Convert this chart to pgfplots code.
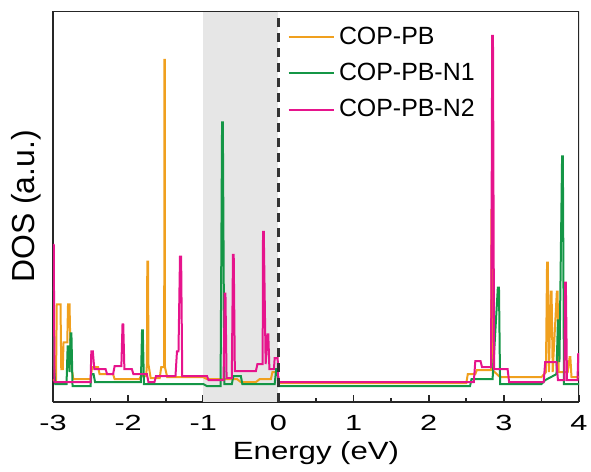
\documentclass[border=0pt]{standalone}
\usepackage{pgfplots}
\pgfplotsset{compat=1.18}
\usepackage{fontspec}
\setmainfont{Liberation Sans}
\newfontfamily\tickfont[FakeStretch=1.4]{Liberation Sans}
\newfontfamily\xlabfont[FakeStretch=1.25]{Liberation Sans}
\definecolor{cpb}{RGB}{240,160,30}
\definecolor{cn1}{RGB}{20,150,70}
\definecolor{cn2}{RGB}{230,20,140}
\definecolor{shade}{RGB}{230,230,230}
\begin{document}
\begin{tikzpicture}
\useasboundingbox (-26.5bp,-35bp) rectangle (269bp,201bp);
\begin{axis}[
    scale only axis, width=263bp, height=195.5bp,
    xmin=-3, xmax=4, ymin=0, ymax=393,
    xtick={-3,...,4}, minor x tick num=1,
    ytick=\empty,
    axis x line*=bottom, axis y line*=left,
    every outer x axis line/.append style={-},
    every outer y axis line/.append style={-},
    axis line style={line width=1bp, black!85},
    tick style={line width=0.8bp, black!85},
    tick align=inside,
    major tick length=3.5bp, minor tick length=2bp,
    xticklabel style={font=\tickfont\fontsize{11}{13}\selectfont, yshift=-3bp},
    xlabel={Energy (eV)}, ylabel={DOS (a.u.)},
    xlabel style={font=\xlabfont\fontsize{12.5}{15}\selectfont, at={(axis description cs:0.5,-0.131)}, anchor=center},
    ylabel style={font=\fontsize{16}{18}\selectfont, at={(axis description cs:-0.051,0.5)}, anchor=center},
    /pgf/number format/assume math mode=true,
    legend style={draw=none, fill=none, at={(0.434,0.981)}, anchor=north west,
        font=\fontsize{12.5}{14}\selectfont, row sep=4bp},
    legend cell align=left,
    legend image code/.code={\draw[#1, line width=1bp] (0cm,0cm) -- (0.8cm,0cm);},
    clip=true,
  ]
  \addplot[fill=shade, draw=none, forget plot] coordinates {(-1,0) (-1,393) (0,393) (0,0)} -- cycle;
  \draw[line width=1bp, black!85] (rel axis cs:1,0) -- (rel axis cs:1,1) -- (rel axis cs:0,1);
  % COP-PB
  \addplot[cpb, line width=1bp] coordinates {
    (-3,22) (-2.96,22) (-2.95,98) (-2.90,98) (-2.89,33) (-2.87,33) (-2.86,60) (-2.81,60)
    (-2.80,98) (-2.78,98) (-2.77,60) (-2.75,33) (-2.73,23) (-2.5,23) (-2.48,35) (-2.4,35)
    (-2.38,28) (-2.2,28) (-2.18,23) (-1.85,23) (-1.83,26) (-1.76,26) (-1.75,38) (-1.745,141)
    (-1.735,141) (-1.73,38) (-1.70,24) (-1.58,24) (-1.56,35) (-1.52,35) (-1.518,344) (-1.512,344)
    (-1.51,35) (-1.48,25) (-1.0,25) (-0.95,23) (-0.55,23) (-0.5,20) (-0.3,20) (-0.25,23)
    (-0.1,23) (-0.08,30) (-0.01,30) (0,19) (2.5,19) (2.52,28) (2.62,28) (2.64,32) (2.8,32)
    (2.83,32) (2.835,193) (2.845,193) (2.85,32) (2.95,25) (3.3,25) (3.5,25) (3.56,30)
    (3.575,140) (3.585,140) (3.6,30) (3.625,111) (3.635,111) (3.65,30) (3.705,111)
    (3.715,111) (3.73,30) (3.85,30) (3.875,45) (3.885,45) (3.9,25) (4,25)
  };
  \addlegendentry{COP-PB}
  % COP-PB-N1
  \addplot[cn1, line width=1bp] coordinates {
    (-3,116) (-2.99,40) (-2.97,18) (-2.82,18) (-2.805,56) (-2.795,56) (-2.78,30)
    (-2.765,69) (-2.755,69) (-2.74,16) (-2.5,16) (-2.49,28) (-2.46,28) (-2.44,20) (-1.83,20)
    (-1.815,72) (-1.805,72) (-1.79,18) (-1.0,18) (-0.95,16) (-0.77,16) (-0.75,281) (-0.74,281)
    (-0.72,18) (-0.62,18) (-0.6,26) (-0.5,26) (-0.48,18) (-0.05,18) (-0.03,33) (-0.01,33)
    (0,16) (2.55,16) (2.57,23) (2.8,23) (2.85,23) (2.92,115) (2.935,115) (2.95,18) (3.5,18)
    (3.55,22) (3.7,28) (3.72,83) (3.74,40) (3.775,247) (3.785,247) (3.8,18) (4,18)
  };
  \addlegendentry{COP-PB-N1}
  % COP-PB-N2
  \addplot[cn2, line width=1bp] coordinates {
    (-3,158) (-2.99,158) (-2.98,20) (-2.5,20) (-2.49,51) (-2.47,51) (-2.45,33) (-2.3,33)
    (-2.28,28) (-2.2,28) (-2.18,36) (-2.09,36) (-2.075,78) (-2.065,78) (-2.05,33) (-1.95,33)
    (-1.93,28) (-1.75,28) (-1.73,20) (-1.65,20) (-1.63,26) (-1.37,26) (-1.35,51) (-1.33,51)
    (-1.31,146) (-1.295,146) (-1.28,26) (-0.95,26) (-0.93,22) (-0.73,22) (-0.715,109)
    (-0.705,109) (-0.69,24) (-0.62,24) (-0.605,148) (-0.595,148) (-0.58,31) (-0.3,31)
    (-0.28,38) (-0.21,38) (-0.205,171) (-0.195,171) (-0.17,38) (-0.145,68) (-0.135,68)
    (-0.12,33) (-0.06,33) (-0.05,44) (-0.01,44) (0,20) (2.6,20) (2.62,41) (2.69,41) (2.71,35)
    (2.83,35) (2.845,368) (2.855,368) (2.87,33) (3.05,33) (3.07,20) (3.53,20) (3.55,40)
    (3.7,40) (3.72,22) (3.805,22) (3.815,120) (3.825,120) (3.84,22) (3.98,22) (3.99,48) (4,48)
  };
  \addlegendentry{COP-PB-N2}
  \addplot[black!80, line width=1.3bp, dash pattern=on 4.5bp off 3bp, forget plot] coordinates {(0,0) (0,393)};
\end{axis}
\end{tikzpicture}
\end{document}
